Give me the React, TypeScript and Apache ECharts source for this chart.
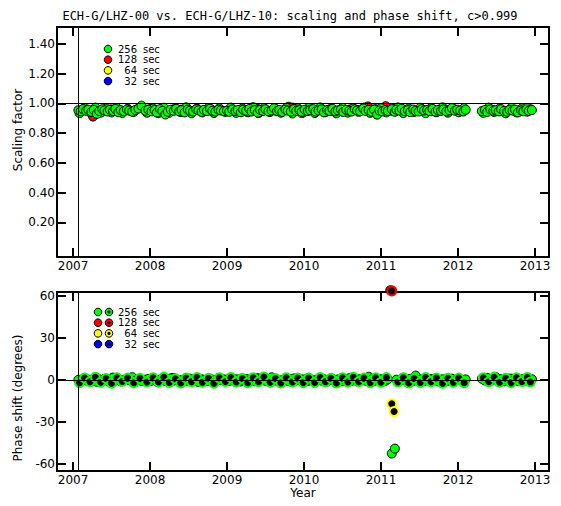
import React, { useEffect, useRef } from "react";
import * as echarts from "echarts";

const TITLE = "ECH-G/LHZ-00 vs. ECH-G/LHZ-10: scaling and phase shift, c>0.999";
const YEAR_TICKS = [2007, 2008, 2009, 2010, 2011, 2012, 2013];
const SCALE_TICKS = [0.2, 0.4, 0.6, 0.8, 1.0, 1.2, 1.4];
const PHASE_TICKS = [-60, -30, 0, 30, 60];
const PERIOD_SECONDS = ["256", "128", "64", "32"];
const COLORS = ["#00ff00", "#ff0000", "#ffff00", "#0000ff"];

// 256 sec epochs (decimal year), scaling factors and phase shifts
const t2007 = [2007.07, 2007.10, 2007.13, 2007.17, 2007.20, 2007.24, 2007.27, 2007.31, 2007.34, 2007.38, 2007.41, 2007.45, 2007.48, 2007.52, 2007.55, 2007.59, 2007.62, 2007.66, 2007.70, 2007.73, 2007.77, 2007.81, 2007.85, 2007.89, 2007.94, 2007.98];
const s2007 = [0.955, 0.948, 0.962, 0.951, 0.958, 0.944, 0.957, 0.930, 0.949, 0.961, 0.953, 0.946, 0.958, 0.950, 0.963, 0.941, 0.955, 0.948, 0.960, 0.952, 0.945, 0.957, 0.966, 0.985, 0.951, 0.958];
const p2007 = [0.2, -0.5, 0.8, -0.3, 0.4, -0.8, 0.1, -1.2, 0.6, -0.2, 0.9, -0.6, 0.3, 1.8, -0.4, 0.5, -0.9, 0.2, 0.7, -0.1, 2.1, -0.5, 0.4, -0.7, 0.3, 0.9];

const t2008 = [2008.02, 2008.06, 2008.09, 2008.13, 2008.16, 2008.20, 2008.23, 2008.27, 2008.31, 2008.34, 2008.38, 2008.41, 2008.45, 2008.49, 2008.52, 2008.56, 2008.60, 2008.63, 2008.67, 2008.70, 2008.74, 2008.78, 2008.81, 2008.85, 2008.89, 2008.92, 2008.96];
const s2008 = [0.947, 0.956, 0.939, 0.962, 0.950, 0.926, 0.944, 0.958, 0.951, 0.964, 0.947, 0.955, 0.940, 0.959, 0.952, 0.946, 0.961, 0.954, 0.943, 0.957, 0.949, 0.965, 0.951, 0.945, 0.958, 0.953, 0.948];
const p2008 = [-0.4, 0.6, -1.1, 0.3, 0.8, -0.6, 0.2, 1.3, -0.3, 0.5, -0.8, 0.1, 0.7, -0.5, 1.0, -0.2, 0.4, -1.4, 0.6, 0.0, -0.7, 0.9, 0.3, -0.4, 1.5, -0.1, 0.5];

const t2009 = [2009.00, 2009.03, 2009.07, 2009.11, 2009.14, 2009.18, 2009.21, 2009.25, 2009.29, 2009.32, 2009.36, 2009.40, 2009.43, 2009.47, 2009.50, 2009.54, 2009.58, 2009.61, 2009.65, 2009.68, 2009.72, 2009.76, 2009.79, 2009.83, 2009.87, 2009.90, 2009.94, 2009.97];
const s2009 = [0.952, 0.944, 0.960, 0.949, 0.956, 0.941, 0.958, 0.951, 0.963, 0.946, 0.955, 0.938, 0.957, 0.950, 0.961, 0.947, 0.953, 0.968, 0.949, 0.956, 0.943, 0.959, 0.952, 0.946, 0.962, 0.950, 0.955, 0.944];
const p2009 = [0.3, -0.6, 0.9, -0.2, 0.5, -1.0, 0.2, 0.7, -0.4, 1.1, -0.8, 0.4, -0.1, 0.6, -0.5, 0.8, 2.0, -0.3, 0.5, -0.9, 0.1, 0.7, -0.6, 0.3, 1.2, -0.2, 0.4, -0.7];

const t2010 = [2010.01, 2010.05, 2010.08, 2010.12, 2010.15, 2010.19, 2010.23, 2010.26, 2010.30, 2010.33, 2010.37, 2010.41, 2010.44, 2010.48, 2010.51, 2010.55, 2010.59, 2010.62, 2010.66, 2010.69, 2010.73, 2010.77, 2010.80, 2010.84, 2010.88, 2010.91, 2010.95, 2010.98];
const s2010 = [0.958, 0.949, 0.955, 0.962, 0.945, 0.953, 0.960, 0.940, 0.956, 0.950, 0.964, 0.947, 0.954, 0.959, 0.943, 0.957, 0.951, 0.946, 0.961, 0.953, 0.948, 0.966, 0.950, 0.956, 0.944, 0.959, 0.925, 0.952];
const p2010 = [0.5, -0.3, 0.8, -0.7, 0.2, 1.0, -0.4, 0.6, -1.1, 0.3, 0.9, -0.2, 0.4, -0.8, 0.7, 0.1, 1.4, -0.5, 0.3, -0.9, 0.6, 0.0, -0.4, 2.4, 0.5, -0.6, 0.2, 0.8];

const t2011 = [2011.02, 2011.06, 2011.09, 2011.14, 2011.18, 2011.20, 2011.24, 2011.27, 2011.31, 2011.35, 2011.38, 2011.42, 2011.45, 2011.49, 2011.53, 2011.56, 2011.60, 2011.63, 2011.67, 2011.71, 2011.74, 2011.78, 2011.81, 2011.85, 2011.89, 2011.92, 2011.96, 2011.99];
const s2011 = [0.947, 0.956, 0.950, 0.961, 0.944, 0.958, 0.952, 0.965, 0.948, 0.955, 0.942, 0.959, 0.951, 0.946, 0.962, 0.953, 0.957, 0.949, 0.963, 0.945, 0.956, 0.950, 0.960, 0.947, 0.954, 0.969, 0.951, 0.958];
const p2011 = [0.4, -0.5, 0.7, -52.5, -49.0, 0.3, -0.8, 0.6, 0.1, -0.3, 0.9, -0.6, 3.2, -0.2, 0.5, -0.7, 0.8, 0.2, -0.4, 1.1, -0.9, 0.3, 0.6, -0.5, 0.2, 1.0, -0.3, 0.7];

const t2012 = [2012.03, 2012.07, 2012.10, 2012.31, 2012.35, 2012.38, 2012.42, 2012.46, 2012.49, 2012.53, 2012.56, 2012.60, 2012.64, 2012.67, 2012.71, 2012.74, 2012.78, 2012.82, 2012.85, 2012.89, 2012.92, 2012.96];
const s2012 = [0.953, 0.946, 0.958, 0.949, 0.956, 0.943, 0.960, 0.951, 0.955, 0.947, 0.962, 0.950, 0.944, 0.957, 0.952, 0.959, 0.940, 0.954, 0.948, 0.961, 0.950, 0.956];
const p2012 = [0.2, -0.6, 0.5, 0.9, -0.3, 1.6, -0.5, 0.4, 2.2, -0.2, 0.6, -0.8, 0.3, 1.0, -0.4, 0.5, -0.7, 0.2, 0.8, -0.3, 0.4, 0.6];

// second batch of 256 sec estimates (interleaved epochs)
const tB = [2007.085, 2007.15, 2007.22, 2007.29, 2007.36, 2007.43, 2007.50, 2007.57, 2007.64, 2007.71, 2007.79, 2007.87, 2007.96,
  2008.04, 2008.11, 2008.18, 2008.25, 2008.33, 2008.40, 2008.47, 2008.54, 2008.61, 2008.68, 2008.76, 2008.83, 2008.90, 2008.98,
  2009.05, 2009.12, 2009.20, 2009.27, 2009.34, 2009.41, 2009.48, 2009.56, 2009.63, 2009.70, 2009.77, 2009.85, 2009.92, 2009.99,
  2010.06, 2010.14, 2010.21, 2010.28, 2010.35, 2010.42, 2010.50, 2010.57, 2010.64, 2010.71, 2010.78, 2010.86, 2010.93,
  2011.00, 2011.07, 2011.22, 2011.29, 2011.36, 2011.43, 2011.51, 2011.58, 2011.65, 2011.72, 2011.80, 2011.87, 2011.94,
  2012.01, 2012.08, 2012.33, 2012.40, 2012.47, 2012.54, 2012.62, 2012.69, 2012.76, 2012.83, 2012.90, 2012.94];
const sB = [0.935, 0.968, 0.942, 0.972, 0.938, 0.966, 0.940, 0.970, 0.936, 0.964, 0.944, 0.975, 0.938,
  0.966, 0.935, 0.971, 0.937, 0.968, 0.942, 0.974, 0.934, 0.965, 0.940, 0.970, 0.936, 0.967, 0.943,
  0.972, 0.937, 0.966, 0.941, 0.975, 0.935, 0.969, 0.943, 0.964, 0.938, 0.971, 0.933, 0.967, 0.940,
  0.969, 0.936, 0.973, 0.942, 0.965, 0.934, 0.970, 0.939, 0.967, 0.944, 0.972, 0.937, 0.962,
  0.968, 0.940, 0.973, 0.936, 0.966, 0.943, 0.971, 0.935, 0.968, 0.941, 0.974, 0.938, 0.965,
  0.941, 0.969, 0.937, 0.972, 0.943, 0.966, 0.934, 0.970, 0.940, 0.967, 0.945, 0.962];
const pB = [-1.8, 1.5, -1.2, 2.0, -1.6, 1.1, -2.2, 1.7, -0.9, 1.4, -1.9, 1.2, -1.4,
  1.6, -1.3, 2.1, -1.7, 1.0, -2.0, 1.5, -1.1, 1.9, -1.5, 1.3, -2.3, 1.6, -1.0,
  1.8, -1.4, 1.2, -1.9, 1.6, -1.2, 2.2, -1.6, 1.1, -2.0, 1.7, -1.3, 1.4, -1.8,
  1.5, -1.7, 1.9, -1.1, 1.3, -2.1, 1.6, -1.4, 2.0, -1.2, 1.4, -1.8, 1.7,
  -1.5, 1.8, -1.3, 1.6, -2.0, 1.2, -1.7, 1.9, -1.1, 1.5, -2.2, 1.3, -1.6,
  1.4, -1.9, 1.7, -1.2, 2.1, -1.5, 1.3, -1.8, 1.6, -1.0, 1.9, -1.4];

// 128 sec
const RED_SCALE = [[2007.15, 0.958], [2007.26, 0.912], [2007.50, 0.960], [2007.75, 0.950], [2008.00, 0.962], [2008.30, 0.955], [2008.55, 0.945], [2008.80, 0.958], [2009.10, 0.950], [2009.40, 0.962], [2009.65, 0.948], [2009.80, 0.978], [2010.05, 0.955], [2010.35, 0.950], [2010.60, 0.960], [2010.83, 0.980], [2011.06, 0.982], [2011.35, 0.955], [2011.65, 0.948], [2011.90, 0.960], [2012.40, 0.952], [2012.70, 0.958]];
const RED_PHASE = [[2007.15, 0.5], [2007.26, -0.8], [2007.50, 1.2], [2007.75, 0.3], [2008.00, -0.5], [2008.30, 1.6], [2008.55, 0.2], [2008.80, -0.9], [2009.10, 0.6], [2009.40, 1.4], [2009.65, -0.3], [2009.80, 0.8], [2010.05, -0.6], [2010.35, 0.4], [2010.60, 1.1], [2010.83, -0.2], [2011.06, 0.7], [2011.35, -0.4], [2011.65, 0.9], [2011.90, -0.7], [2012.40, 0.3], [2012.70, 1.0]];
const RED_PHASE_RING = [[2011.14, 63.8]];

// 64 sec
const YELLOW_SCALE = [[2007.40, 0.955], [2008.20, 0.950], [2008.90, 0.960], [2009.55, 0.945], [2009.97, 0.935], [2010.50, 0.958], [2011.14, 0.950], [2011.17, 0.962], [2011.70, 0.952], [2012.55, 0.948]];
const YELLOW_PHASE = [[2007.40, 0.4], [2008.20, -0.6], [2008.90, 0.8], [2009.55, -0.3], [2009.97, 0.5], [2010.50, -0.8], [2011.70, 0.6], [2012.55, -0.2]];
const YELLOW_PHASE_RING = [[2011.14, -17.0], [2011.17, -22.5]];

// 32 sec
const BLUE_SCALE = [[2007.60, 0.952], [2008.40, 0.958], [2009.25, 0.948], [2009.85, 0.972], [2010.70, 0.955], [2011.12, 0.960], [2011.50, 0.950], [2012.45, 0.956]];
const BLUE_PHASE = [[2007.60, 0.3], [2008.40, -0.5], [2009.25, 0.7], [2009.85, -0.2], [2010.70, 0.4], [2011.12, 64.2], [2011.50, -0.6], [2012.45, 0.5]];

const T256 = [...t2007, ...t2008, ...t2009, ...t2010, ...t2011, ...t2012];
const S256 = [...s2007, ...s2008, ...s2009, ...s2010, ...s2011, ...s2012];
const P256 = [...p2007, ...p2008, ...p2009, ...p2010, ...p2011, ...p2012];

const FONT = "DejaVu Sans";
const X_MIN = 2006.792;
const X_MAX = 2013.182;

function xAxis(gridIndex: number, position: string, showLabel: boolean, extra: any = {}) {
  return {
    type: "value", gridIndex, position, min: X_MIN, max: X_MAX,
    axisLine: { show: true, onZero: false, lineStyle: { color: "#000", width: 2 } },
    axisTick: { show: true, inside: true, length: 9, customValues: YEAR_TICKS, lineStyle: { color: "#000", width: 2 } },
    axisLabel: { show: showLabel, customValues: YEAR_TICKS, margin: 3, color: "#000", fontFamily: FONT, fontSize: 12, formatter: (v: number) => String(Math.round(v)) },
    splitLine: { show: false },
    ...extra,
  };
}

function yAxis(gridIndex: number, position: string, showLabel: boolean, min: number, max: number, ticks: number[], fmt: (v: number) => string) {
  return {
    type: "value", gridIndex, position, min, max,
    axisLine: { show: true, onZero: false, lineStyle: { color: "#000", width: 2 } },
    axisTick: { show: true, inside: true, length: 9, customValues: ticks, lineStyle: { color: "#000", width: 2 } },
    axisLabel: { show: showLabel, customValues: ticks, margin: 2, color: "#000", fontFamily: FONT, fontSize: 12, formatter: fmt },
    splitLine: { show: false },
  };
}

function scatter(x: number, y: number, data: number[][], color: string, extra: any = {}) {
  return {
    type: "scatter", xAxisIndex: x, yAxisIndex: y, data,
    symbol: "circle", symbolSize: 9,
    itemStyle: { color, borderColor: "#000", borderWidth: 1, opacity: 1 },
    emphasis: { disabled: true },
    ...extra,
  };
}

function ring(x: number, y: number, data: number[][], color: string, extra: any = {}) {
  return scatter(x, y, data, "#000", { itemStyle: { color: "#000", borderColor: color, borderWidth: 2, opacity: 1 }, ...extra });
}

function refLines(vx: number, hy: number) {
  return {
    silent: true, symbol: ["none", "none"], label: { show: false },
    lineStyle: { color: "#000", width: 1, type: "solid" },
    emphasis: { disabled: true },
    data: [{ xAxis: vx }, { yAxis: hy }],
  };
}

function legendGraphics(top: number, xs: number[], withRing: boolean) {
  const els: any[] = [];
  PERIOD_SECONDS.forEach((p, i) => {
    const cy = top + i * 10.7;
    els.push({ type: "circle", shape: { cx: xs[0], cy, r: 3.8 }, style: { fill: COLORS[i], stroke: "#000", lineWidth: 1 } });
    if (withRing) {
      els.push({ type: "circle", shape: { cx: xs[1], cy, r: 3.8 }, style: { fill: COLORS[i], stroke: "#000", lineWidth: 1 } });
      els.push({ type: "circle", shape: { cx: xs[1], cy, r: 1.6 }, style: { fill: "#000" } });
    }
    els.push({ type: "text", x: 137, y: cy, style: { text: p, font: `10px ${FONT}`, fill: "#000", align: "right", verticalAlign: "middle" } });
    els.push({ type: "text", x: 143, y: cy, style: { text: "sec", font: `10px ${FONT}`, fill: "#000", align: "left", verticalAlign: "middle" } });
  });
  return els;
}

export default function App() {
  const ref = useRef<HTMLDivElement>(null);
  useEffect(() => {
    if (!ref.current) return;
    const chart = echarts.init(ref.current, null, { renderer: "svg" });
    const green = T256.map((t, i) => [t, S256[i]]);
    const greenB = tB.map((t, i) => [t, sB[i]]);
    const greenPhase = T256.map((t, i) => [t, P256[i]]);
    const greenPhaseB = tB.map((t, i) => [t, pB[i]]);
    chart.setOption({
      animation: false,
      backgroundColor: "#fff",
      grid: [
        { left: 57, top: 27, width: 492, height: 230 },
        { left: 57, top: 292, width: 492, height: 179 },
      ],
      xAxis: [
        xAxis(0, "bottom", true),
        xAxis(0, "top", false),
        xAxis(1, "bottom", true, { name: "Year", nameLocation: "middle", nameGap: 14, nameTextStyle: { color: "#000", fontFamily: FONT, fontSize: 12 } }),
        xAxis(1, "top", false),
      ],
      yAxis: [
        yAxis(0, "left", true, -0.032, 1.514, SCALE_TICKS, (v) => v.toFixed(2)),
        yAxis(0, "right", false, -0.032, 1.514, SCALE_TICKS, (v) => v.toFixed(2)),
        yAxis(1, "left", true, -65, 63, PHASE_TICKS, (v) => String(Math.round(v))),
        yAxis(1, "right", false, -65, 63, PHASE_TICKS, (v) => String(Math.round(v))),
      ],
      series: [
        scatter(0, 0, BLUE_SCALE, COLORS[3], { markLine: refLines(2007.065, 1) }),
        scatter(0, 0, YELLOW_SCALE, COLORS[2]),
        scatter(0, 0, RED_SCALE, COLORS[1]),
        scatter(0, 0, greenB, COLORS[0]),
        scatter(0, 0, green, COLORS[0]),
        scatter(2, 2, BLUE_PHASE, COLORS[3], { clip: false, markLine: refLines(2007.065, 0) }),
        scatter(2, 2, YELLOW_PHASE, COLORS[2]),
        ring(2, 2, YELLOW_PHASE_RING, COLORS[2]),
        scatter(2, 2, RED_PHASE, COLORS[1]),
        ring(2, 2, RED_PHASE_RING, COLORS[1], { clip: false }),
        scatter(2, 2, greenPhase, COLORS[0]),
        ring(2, 2, greenPhaseB, COLORS[0]),
      ],
      graphic: [
        { type: "text", x: 290, y: 16, style: { text: TITLE, font: `12px "DejaVu Sans Mono"`, fill: "#000", align: "center", verticalAlign: "middle" } },
        { type: "text", x: 18, y: 130, rotation: Math.PI / 2, style: { text: "Scaling factor", font: `12px ${FONT}`, fill: "#000", align: "center", verticalAlign: "middle" } },
        { type: "text", x: 18, y: 398, rotation: Math.PI / 2, style: { text: "Phase shift (degrees)", font: `12px ${FONT}`, fill: "#000", align: "center", verticalAlign: "middle" } },
        ...legendGraphics(49, [108], false),
        ...legendGraphics(312, [98, 109], true),
      ],
    });
    return () => chart.dispose();
  }, []);
  return (
    <div style={{ position: "fixed", left: 0, top: 0, width: 561, height: 506, background: "#fff" }}>
      <div ref={ref} style={{ width: 561, height: 506 }} />
    </div>
  );
}
